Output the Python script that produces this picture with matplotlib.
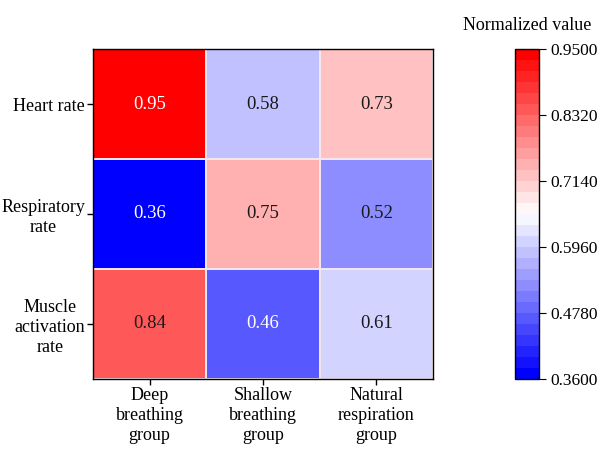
import numpy as np
import matplotlib
matplotlib.use("Agg")
import matplotlib.pyplot as plt
from matplotlib.colors import Normalize

rows = ["Heart rate", "Respiratory\nrate", "Muscle\nactivation\nrate"]
cols = ["Deep\nbreathing\ngroup", "Shallow\nbreathing\ngroup", "Natural\nrespiration\ngroup"]
values = [
    [0.95, 0.58, 0.73],
    [0.36, 0.75, 0.52],
    [0.84, 0.46, 0.61],
]
cbar_label = "Normalized value"

plt.rcParams['font.family'] = ['Liberation Serif', 'DejaVu Serif']

data = np.array(values)
vmin, vmax = data.min(), data.max()
cmap = plt.get_cmap('bwr', 30)
norm = Normalize(vmin=vmin, vmax=vmax)

fig = plt.figure(figsize=(5.99, 4.5), dpi=100)
ax = fig.add_axes([0.155, 0.158, 0.568, 0.733])
cax = fig.add_axes([0.860, 0.158, 0.040, 0.733])

mesh = ax.pcolormesh(data, cmap=cmap, norm=norm, edgecolors='#f4e6ee', linewidth=0.3)
ax.set_xlim(0, data.shape[1])
ax.set_ylim(data.shape[0], 0)
ax.set_xticks(np.arange(data.shape[1]) + 0.5)
ax.set_xticklabels(cols, fontsize=13, linespacing=1.25)
ax.set_yticks(np.arange(data.shape[0]) + 0.5)
ax.set_yticklabels(rows, fontsize=13, multialignment='center', linespacing=1.25)
ax.tick_params(length=4, width=1, pad=1.5)
for s in ax.spines.values():
    s.set_linewidth(1)

for i in range(data.shape[0]):
    for j in range(data.shape[1]):
        n = norm(data[i, j])
        color = 'white' if (n < 0.2 or n > 0.9) else '#1a1a1a'
        ax.text(j + 0.5, i + 0.5, f"{data[i, j]:.2f}", ha='center', va='center',
                color=color, fontsize=13.5)

cb = fig.colorbar(mesh, cax=cax)
ticks = np.linspace(vmin, vmax, 6)
cb.set_ticks(ticks)
cb.set_ticklabels([f"{t:.4f}" for t in ticks])
cb.ax.tick_params(labelsize=12.5, length=5, pad=3)
cb.outline.set_linewidth(1)
cax.set_title(cbar_label, fontsize=13, pad=14)

fig.savefig("out.png", dpi=100)
